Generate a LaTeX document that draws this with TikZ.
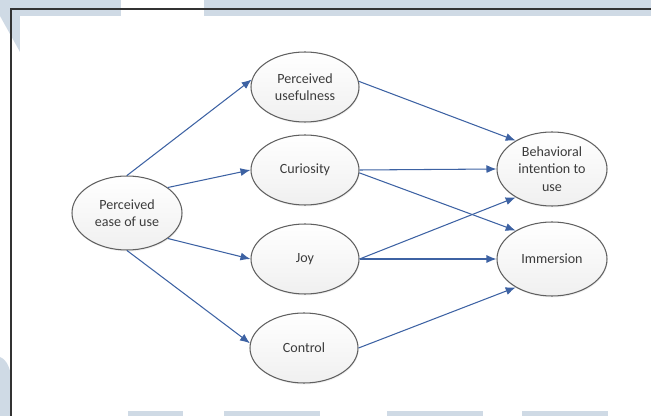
\documentclass[tikz,border=0pt]{standalone}
\usepackage{fontspec}
\setmainfont{Carlito}
\usepackage{tikz}
\usetikzlibrary{arrows.meta,shadows,shapes.geometric}

\definecolor{linkblue}{HTML}{3D62A3}
\definecolor{txtgray}{HTML}{3C3C3C}
\definecolor{wmblue}{HTML}{CFDAE5}

\begin{document}
\begin{tikzpicture}[
    construct/.style={ellipse,draw=gray!75!black,line width=0.6pt,top color=white,bottom color=gray!12,
      drop shadow={opacity=0.12,shadow xshift=0.4pt,shadow yshift=-0.8pt},
      minimum width=2.16cm,minimum height=1.4cm,inner sep=0pt,align=center,
      text=txtgray,font=\fontsize{8}{10}\selectfont},
    link/.style={draw=linkblue,line width=0.6pt,-{Latex[length=2mm,width=1.6mm]}}]
  \useasboundingbox (0,0) rectangle (13.02,-8.32);
  % background marks
  \fill[wmblue] (0,0) rectangle (2.42,-0.32);
  \fill[wmblue] (4.08,0) rectangle (13.02,-0.32);
  \fill[wmblue] (0,-0.32) -- (0.40,-0.32) -- (0.40,-1.04) -- cycle;
  \fill[wmblue] (0,-8.32) -- (0,-7.14) .. controls (0.15,-7.2) and (0.22,-7.4) .. (0.22,-7.6) -- (0.22,-8.32) -- cycle;
  \fill[wmblue] (2.56,-8.22) rectangle (3.66,-8.32);
  \fill[wmblue] (4.48,-8.22) rectangle (6.40,-8.32);
  \fill[wmblue] (7.74,-8.22) rectangle (9.66,-8.32);
  \fill[wmblue] (10.44,-8.22) rectangle (12.16,-8.32);
  % frame
  \draw[gray!40!black,line width=0.8pt] (13.02,-0.18) -- (0.22,-0.18) -- (0.22,-8.32);

  \node[construct,minimum width=2.2cm,minimum height=1.48cm] (peou) at (2.54,-4.26) {Perceived\\ease of use};
  \node[construct] (pu) at (6.10,-1.74) {Perceived\\usefulness};
  \node[construct] (cur) at (6.10,-3.40) {Curiosity};
  \node[construct] (joy) at (6.10,-5.18) {Joy};
  \node[construct] (ctrl) at (6.08,-6.96) {Control};
  \node[construct,minimum width=2.2cm,minimum height=1.48cm] (bi) at (11.04,-3.38) {Behavioral\\intention to\\use};
  \node[construct,minimum width=2.2cm,minimum height=1.48cm] (imm) at (11.04,-5.18) {Immersion};

  \draw[link] (peou.north) to (pu.172);
  \draw[link] (peou.32) to (cur.west);
  \draw[link] (peou.-32) to (joy.west);
  \draw[link] (peou.south) to (ctrl.175);
  \draw[link] (pu.6) to (bi.142);
  \draw[link] (cur.east) to (bi.west);
  \draw[link] (cur.-3) to (imm.142);
  \draw[link] (joy.east) to (bi.218);
  \draw[link] (joy.east) to (imm.west);
  \draw[link] (ctrl.east) to (imm.218);
\end{tikzpicture}
\end{document}
